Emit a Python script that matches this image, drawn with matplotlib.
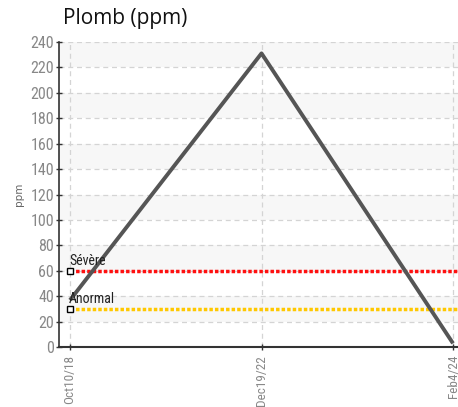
import matplotlib
matplotlib.use("Agg")
import matplotlib.pyplot as plt
from matplotlib import font_manager

dates = ["Oct10/18", "Dec19/22", "Feb4/24"]
values = [37, 231, 3]
thresholds = {"Sévère": 60, "Anormal": 30}
threshold_colors = {"Sévère": "#ff1010", "Anormal": "#ffc800"}
yticks = list(range(0, 241, 20))

names = {f.name for f in font_manager.fontManager.ttflist}
narrow = "Roboto"
for cand in ["Liberation Sans Narrow", "Roboto Condensed", "Open Sans Condensed",
             "Noto Sans Condensed", "DejaVu Sans Condensed"]:
    if cand in names:
        narrow = cand
        break

fig = plt.figure(figsize=(4.58, 4.07), dpi=100)
ax = fig.add_axes([0.129, 0.147, 0.871, 0.75])

x = list(range(len(dates)))
ax.set_xlim(-0.057, 2.026)
ax.set_ylim(0, 240)

# alternating bands
for lo in range(20, 240, 40):
    ax.axhspan(lo, lo + 20, color="#f7f7f7", zorder=0, lw=0)

for yv in yticks[1:]:
    ax.axhline(yv, color="#d4d4d4", lw=0.9, ls=(0, (4, 3)), zorder=1)
for xv in x:
    ax.axvline(xv, color="#d4d4d4", lw=0.9, ls=(0, (4, 3)), zorder=1)

for name, val in thresholds.items():
    ax.plot([x[0], x[-1] + 0.026], [val, val], color=threshold_colors[name], lw=2.5,
            ls=(0, (1, 0.6)), zorder=3, solid_capstyle="butt")
    ax.plot([x[0]], [val], marker="s", ms=4.5, mfc="white", mec="black", mew=1, zorder=5,
            clip_on=False)
    ax.text(x[0] - 0.005, val + 2.5, name, fontsize=10, family=narrow, color="#222222",
            ha="left", va="bottom", zorder=6)

ax.plot(x, values, color="#555555", lw=2.8, zorder=4, solid_capstyle="butt")

ax.set_yticks(yticks)
ax.set_xticks(x)
ax.set_xticklabels(dates, rotation=90, family=narrow, fontsize=9.5, color="#888888")
for lab in ax.get_yticklabels():
    lab.set_family(narrow)
    lab.set_fontsize(11.5)
    lab.set_color("#888888")

ax.tick_params(axis="y", length=4, width=1, color="#333333", pad=1.5, direction="inout")
ax.tick_params(axis="x", length=5, width=1, color="#333333", pad=3, direction="inout")

for s in ["top", "right"]:
    ax.spines[s].set_visible(False)
ax.spines["left"].set_color("#333333")
ax.spines["bottom"].set_color("#333333")
ax.spines["left"].set_linewidth(1.2)
ax.spines["bottom"].set_linewidth(1.5)

ax.set_ylabel("ppm", fontsize=7.5, color="#666666", labelpad=5)
fig.text(0.137, 0.955, "Plomb (ppm)", fontsize=15, family="Open Sans", ha="left", va="center",
         color="#111111")

fig.savefig("out.png", dpi=100)
